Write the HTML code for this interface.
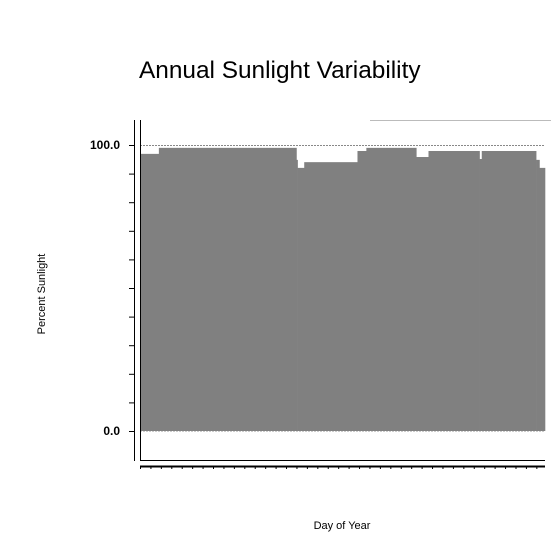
<!DOCTYPE html>
<html><head><meta charset="utf-8"><style>
body{margin:0;background:#fff;}
svg{display:block;font-family:"Liberation Sans",sans-serif;}
</style></head><body>
<svg id="c" width="560" height="560">
<text x="139" y="78" font-size="24.4" fill="#000">Annual Sunlight Variability</text>
<text transform="translate(45,294) rotate(-90)" text-anchor="middle" font-size="11">Percent Sunlight</text>
<text x="342" y="529" text-anchor="middle" font-size="11">Day of Year</text>
<line x1="370" y1="120.5" x2="551" y2="120.5" stroke="#bbb"/>
<g id="bars"></g>
<g id="axes"></g>
</svg>
<script>
const segStart=[0,17,141,142,148,196,204,249,260,306,308,357,360];
const segValue=[96.9,99,94.8,92,94,97.9,99,95.8,97.9,95.1,97.9,94.8,92];
const yTicks=[0,100];
const yTickLabels=["0.0","100.0"];
const dayMax=365;
const NS="http://www.w3.org/2000/svg";
const X0=140,X1=545,Y0=431,Y100=145;
const xs=d=>X0+d/dayMax*(X1-X0);
const ys=v=>Y0+(Y100-Y0)*v/100;
const svg=document.getElementById('c');
const bars=document.getElementById('bars');
const axes=document.getElementById('axes');
function mk(t,a,p){const e=document.createElementNS(NS,t);for(const k in a)e.setAttribute(k,a[k]);(p||svg).appendChild(e);return e;}
for(let i=0;i<segStart.length;i++){
  const s=segStart[i],e=i+1<segStart.length?segStart[i+1]:dayMax;
  const r=mk('rect',{x:xs(s),y:ys(segValue[i]),width:xs(e)-xs(s)+0.3,height:ys(0)-ys(segValue[i]),fill:'#808080'},bars);
  
  
}
for(const v of yTicks){
  const l=mk('line',{x1:X0,x2:X1,y1:ys(v)+0.5,y2:ys(v)+0.5,stroke:v===0?'#ccc':'#888','stroke-dasharray':'2,1'},axes);
  
  
}
let a=mk('line',{x1:134.5,x2:134.5,y1:120,y2:461,stroke:'#000'},axes);


a=mk('line',{x1:140.5,x2:140.5,y1:120,y2:461,stroke:'#000'},axes);


a=mk('line',{x1:140,x2:X1,y1:460.5,y2:460.5,stroke:'#000'},axes);


a=mk('line',{x1:140,x2:X1,y1:466.5,y2:466.5,stroke:'#000','stroke-width':2},axes);


for(let d=0;d<=dayMax;d+=9.4){
  const t=mk('line',{x1:xs(d)+0.5,x2:xs(d)+0.5,y1:467,y2:469,stroke:'#000'},axes);
  
  
}
for(let v=-10;v<=110;v+=10){
  const y=ys(v);
  if(y<125||y>458)continue;
  const t=mk('line',{x1:129,x2:134,y1:y+0.5,y2:y+0.5,stroke:'#000'},axes);
  
  
}
yTicks.forEach((v,i)=>{
  const t=mk('text',{x:120,y:ys(v)+4,'text-anchor':'end','font-size':12,'font-weight':'bold'},axes);
  t.textContent=yTickLabels[i];
  
  
});
</script>
</body></html>
